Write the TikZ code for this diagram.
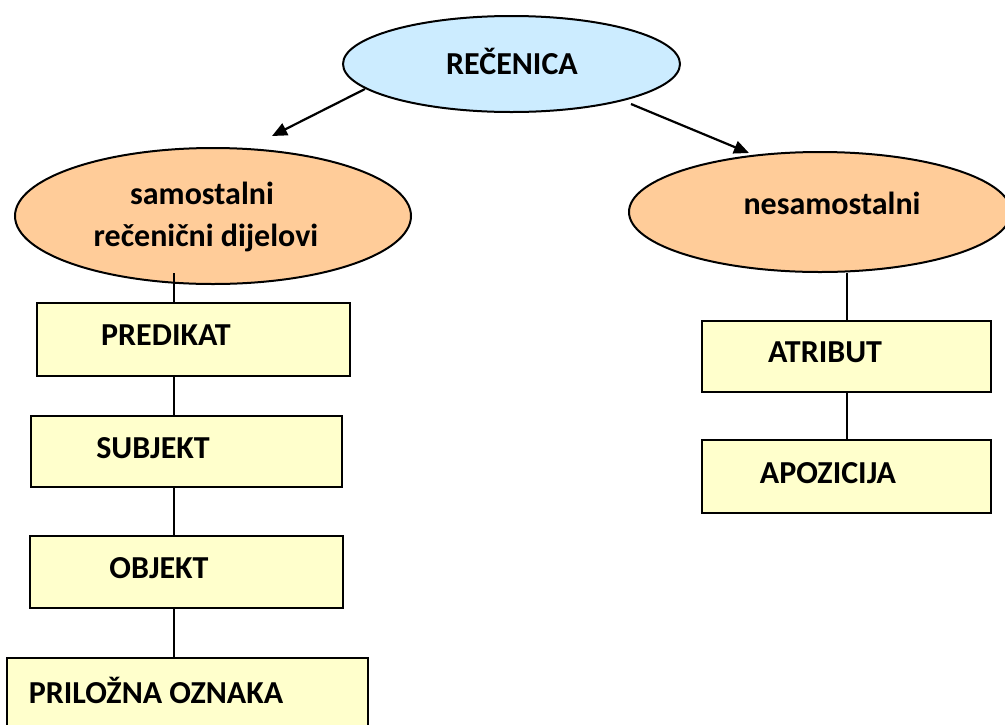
\documentclass[tikz,border=0pt]{standalone}
\usepackage{fontspec}
\setmainfont{Carlito}
\usetikzlibrary{arrows.meta,shapes.geometric}
\definecolor{topblue}{HTML}{CCECFF}
\definecolor{peach}{HTML}{FFCC99}
\definecolor{paleyellow}{HTML}{FFFFCC}
\tikzset{
  ell/.style={ellipse,draw=black,line width=2pt,inner sep=0pt},
  boxnode/.style={rectangle,draw=black,line width=2pt,fill=paleyellow,inner sep=0pt},
  txt/.style={font=\fontsize{32}{38}\selectfont\bfseries,inner sep=0pt},
  arr/.style={line width=2.2pt,-{Triangle[length=15pt,width=13pt]}},
  conn/.style={line width=1.4pt}
}
\begin{document}
\begin{tikzpicture}[x=1pt,y=-1pt]
\useasboundingbox (0,0) rectangle (1005,724);
% ellipses
\node[ell,fill=topblue,minimum width=337pt,minimum height=96pt] (rec) at (511.5,64) {};
\node[txt] (trec) at (512,61) {REČENICA};
\node[ell,fill=peach,minimum width=396pt,minimum height=136pt] (sam) at (213,216) {};
\node[txt] (tsam1) at (202,193) {samostalni};
\node[txt] (tsam2) at (206,238) {rečenični dijelovi};
\node[ell,fill=peach,minimum width=382pt,minimum height=120pt] (nes) at (820,212) {};
\node[txt] (tnes) at (832,203) {nesamostalni};
% arrows
\coordinate (a1s) at (365,89);
\coordinate (a1e) at (272,136);
\coordinate (a2s) at (631,104);
\coordinate (a2e) at (749,153);
\draw[arr] (a1s) -- (a1e);
\draw[arr] (a2s) -- (a2e);
% left boxes
\node[boxnode,minimum width=313pt,minimum height=73pt] (pred) at (193.5,339.5) {};
\node[txt] (tpred) at (166,335) {PREDIKAT};
\node[boxnode,minimum width=311pt,minimum height=71pt] (subj) at (186.5,451.5) {};
\node[txt] (tsubj) at (153,448) {SUBJEKT};
\node[boxnode,minimum width=313pt,minimum height=72pt] (obj) at (186.5,572) {};
\node[txt] (tobj) at (159,568) {OBJEKT};
\node[boxnode,minimum width=361pt,minimum height=80pt] (pril) at (187.5,698) {};
\node[txt] (tpril) at (156,690) {PRILOŽNA OZNAKA};
% right boxes
\node[boxnode,minimum width=289pt,minimum height=71pt] (atr) at (846.5,356.5) {};
\node[txt] (tatr) at (825,352) {ATRIBUT};
\node[boxnode,minimum width=289pt,minimum height=73pt] (apo) at (846.5,476.5) {};
\node[txt] (tapo) at (828,473) {APOZICIJA};
% connectors
\coordinate (c0) at (174,273);
\draw[conn] (c0) -- (pred.north -| c0);
\draw[conn] (pred.south -| c0) -- (subj.north -| c0);
\draw[conn] (subj.south -| c0) -- (obj.north -| c0);
\draw[conn] (obj.south -| c0) -- (pril.north -| c0);
\coordinate (c1) at (847,272);
\draw[conn] (nes.south -| c1) -- (atr.north -| c1);
\draw[conn] (atr.south -| c1) -- (apo.north -| c1);
\end{tikzpicture}
\end{document}
